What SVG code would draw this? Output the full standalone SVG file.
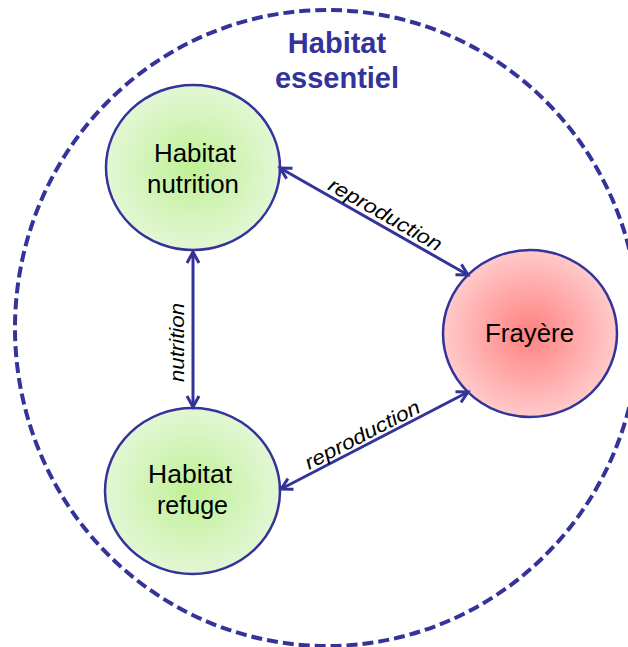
<svg xmlns="http://www.w3.org/2000/svg" width="628" height="647" viewBox="0 0 628 647">
<style>
.node{stroke:#333399;stroke-width:2.5}
.ntext{font-family:"Liberation Sans",Arial,sans-serif;font-size:25px;fill:#000;text-anchor:middle}
.title{font-family:"Liberation Sans",Arial,sans-serif;font-size:29px;font-weight:bold;fill:#333399;text-anchor:middle}
.conn{stroke:#333399;stroke-width:3;fill:none;marker-start:url(#arr);marker-end:url(#arr)}
.lbl{font-family:"Liberation Sans",Arial,sans-serif;font-size:20px;font-style:italic;fill:#000;text-anchor:middle}
</style>
<defs>
<radialGradient id="gGreen" cx="50%" cy="50%" r="50%">
<stop offset="0" stop-color="#bff096"/>
<stop offset="1" stop-color="#e2f7d4"/>
</radialGradient>
<radialGradient id="gRed" cx="50%" cy="50%" r="50%">
<stop offset="0" stop-color="#ff8080"/>
<stop offset="1" stop-color="#ffcaca"/>
</radialGradient>
<marker id="arr" markerUnits="userSpaceOnUse" markerWidth="16" markerHeight="16" viewBox="0 0 16 16" refX="13" refY="8" orient="auto-start-reverse">
<path d="M2,2 L13,8 L2,14" fill="none" stroke="#333399" stroke-width="3" stroke-linejoin="miter"/>
</marker>
</defs>
<rect width="628" height="647" fill="#fff"/>
<g id="habitat-essentiel">
<ellipse cx="327" cy="328" rx="312" ry="318" fill="none" stroke="#333399" stroke-width="4" stroke-dasharray="11 5"/>
<text class="title" x="337" y="53">Habitat</text>
<text class="title" x="337" y="88">essentiel</text>
</g>
<g id="habitat-nutrition">
<ellipse class="node" cx="193" cy="167.5" rx="87" ry="82.5" fill="url(#gGreen)"/>
<text class="ntext" x="195" y="162" textLength="82" lengthAdjust="spacingAndGlyphs">Habitat</text>
<text class="ntext" x="193" y="193" textLength="92" lengthAdjust="spacingAndGlyphs">nutrition</text>
</g>
<g id="habitat-refuge">
<ellipse class="node" cx="192.5" cy="491" rx="87.5" ry="83" fill="url(#gGreen)"/>
<text class="ntext" x="190" y="483" textLength="84" lengthAdjust="spacingAndGlyphs">Habitat</text>
<text class="ntext" x="192.5" y="514" textLength="71" lengthAdjust="spacingAndGlyphs">refuge</text>
</g>
<g id="frayere">
<ellipse class="node" cx="530" cy="333.5" rx="87" ry="83.5" fill="url(#gRed)"/>
<text class="ntext" x="529.5" y="342" textLength="89" lengthAdjust="spacingAndGlyphs">Frayère</text>
</g>
<g id="connectors">
<line class="conn" x1="280" y1="168" x2="468" y2="275"/>
<line class="conn" x1="193" y1="252" x2="193" y2="407"/>
<line class="conn" x1="281" y1="489" x2="468" y2="392"/>
<text class="lbl" transform="translate(379.5,224.7) rotate(29.6)" x="0" y="-5" textLength="127" lengthAdjust="spacingAndGlyphs">reproduction</text>
<text class="lbl" transform="translate(367.3,444.3) rotate(-27.4)" x="0" y="-4" textLength="127" lengthAdjust="spacingAndGlyphs">reproduction</text>
<text class="lbl" transform="translate(183.5,342.5) rotate(-90)" x="0" y="0" textLength="79" lengthAdjust="spacingAndGlyphs">nutrition</text>
</g>
</svg>
